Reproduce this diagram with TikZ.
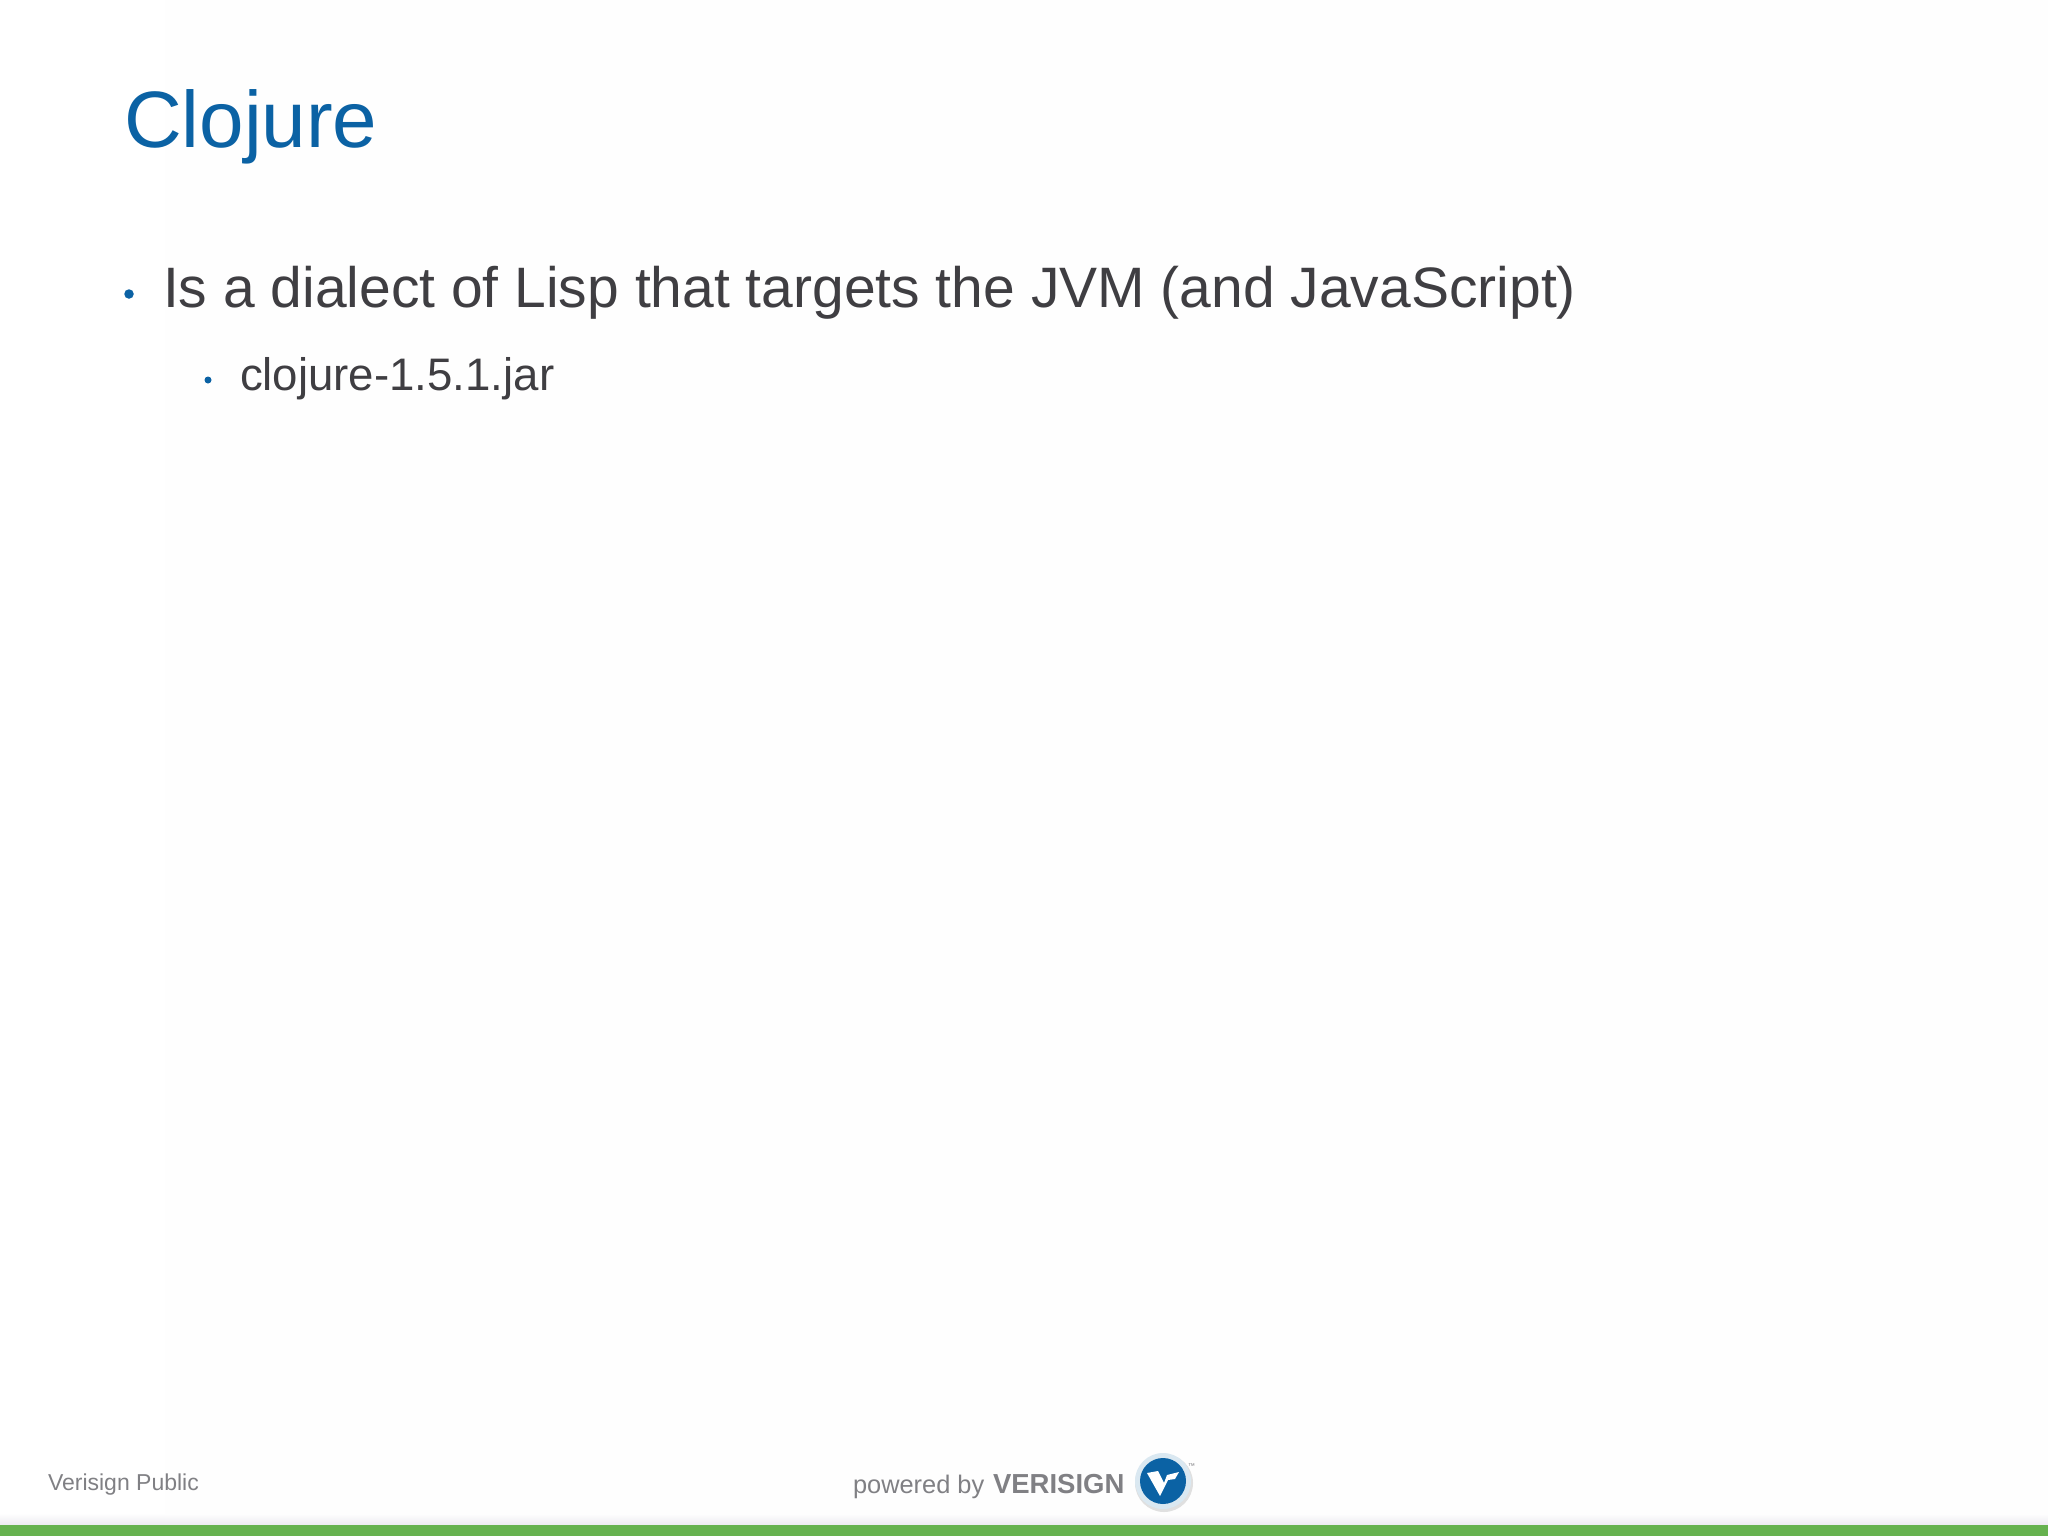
\documentclass[tikz,border=0pt]{standalone}
\usepackage{fontspec}
\setmainfont{Liberation Sans}
\definecolor{titleblue}{HTML}{0B62A4}
\definecolor{bodygrey}{HTML}{3F3E42}
\definecolor{footgrey}{HTML}{808084}
\definecolor{barlogo}{HTML}{808084}
\definecolor{bargreen}{HTML}{66B24F}
\definecolor{shade}{HTML}{ECEAF0}
\definecolor{paper}{HTML}{FEFEFE}
\usetikzlibrary{shadings}
\tikzset{
  txt/.style={anchor=base west,inner sep=0pt,outer sep=0pt},
  bulletdot/.style={circle,fill=titleblue,draw=none,inner sep=0pt},
}
\newcommand{\fsz}[1]{\fontsize{#1}{#1}\selectfont}
\begin{document}
\begin{tikzpicture}[x=1pt,y=-1pt]
\useasboundingbox (0,0) rectangle (2048,1536);
\fill[white] (0,0) rectangle (2048,1536);
\fill[paper] (165,0) rectangle (2048,1518);
% bottom bar
\shade[top color=paper,bottom color=shade] (0,1514) rectangle (2048,1525);
\fill[bargreen] (0,1525) rectangle (2048,1536);
% texts
\node[txt,text=titleblue] (title) at (124,148) {\fsz{80}Clojure};
\node[bulletdot,minimum size=9.5pt] (b1) at (129,294) {};
\node[txt,text=bodygrey] (l1) at (163,307) {\fsz{57}Is a dialect of Lisp that targets the JVM (and JavaScript)};
\node[bulletdot,minimum size=7pt] (b2) at (208,380) {};
\node[txt,text=bodygrey] (l2) at (240,390) {\fsz{45.6}clojure-1.5.1.jar};
\node[txt,text=footgrey] (foot) at (48,1490) {\fsz{23}Verisign Public};
% logo
\node[txt,text=barlogo] (pow) at (853,1493) {\fsz{25.4}powered by};
\node[txt,text=barlogo] (veri) at (993,1493) {\fsz{27.5}\bfseries VERISIGN};
\fill[black!12] (1164,1483) circle (29);
\fill[white!85!titleblue] (1163,1481) circle (28);
\fill[titleblue] (1163,1481) circle (23);
\fill[white] (1147,1473) -- (1158,1471) -- (1164,1483) -- (1167,1475) -- (1179,1472)
  -- (1175,1479) -- (1168,1480) -- (1160,1496) -- cycle;
\node[txt,text=barlogo] (tm) at (1188,1468) {\fsz{7}™};
\end{tikzpicture}
\end{document}
